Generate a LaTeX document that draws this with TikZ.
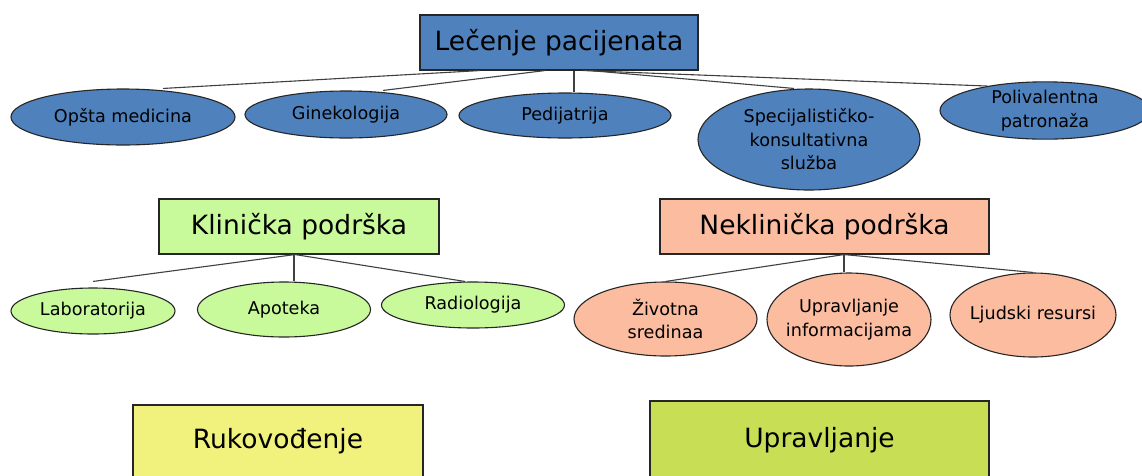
\documentclass[tikz,border=0pt]{standalone}
\usepackage{fontspec}
\setmainfont{DejaVu Sans}
\usetikzlibrary{shapes.geometric}
\definecolor{cblue}{HTML}{4F81BD}
\definecolor{cgreen}{HTML}{C8FA9C}
\definecolor{csalmon}{HTML}{FBBCA0}
\definecolor{cyellow}{HTML}{F0F27D}
\definecolor{colive}{HTML}{C8DE55}
\newcommand\bigfnt{\fontsize{26.5}{32}\selectfont}
\newcommand\smfnt{\fontsize{17.6}{23.5}\selectfont}
\begin{document}
\begin{tikzpicture}[x=1pt,y=-1pt,
  bigbox/.style={rectangle, draw=black!85, line width=1.1pt, inner sep=0pt, font=\bigfnt},
  oval/.style={ellipse, draw=black!85, line width=1.1pt, inner xsep=-12pt, inner ysep=0pt, align=center, font=\smfnt},
  conn/.style={draw=black!75, line width=1.1pt}]
\clip (0,0) rectangle (1142,475);
\fill[white] (0,0) rectangle (1142,475);

% top level
\node[bigbox, fill=cblue, minimum width=278pt, minimum height=55pt] (top) at (559,42.5) {Lečenje pacijenata};
\node[oval, fill=cblue, minimum width=224pt, minimum height=56pt] (op) at (123,117) {Opšta medicina};
\node[oval, fill=cblue, minimum width=202pt, minimum height=47pt] (gin) at (346,114.5) {Ginekologija};
\node[oval, fill=cblue, minimum width=212pt, minimum height=45pt] (ped) at (565,115.5) {Pedijatrija};
\node[oval, fill=cblue, minimum width=222pt, minimum height=101pt] (spe) at (809,139.5) {Specijalističko-\\konsultativna\\služba};
\node[oval, fill=cblue, minimum width=210pt, minimum height=55pt] (pol) at (1045,110.5) {Polivalentna\\patronaža};

\draw[conn] ([xshift=-79pt]top.south) -- ([xshift=40pt]op.north);
\draw[conn] ([xshift=-14pt]top.south) -- ([xshift=37pt]gin.north);
\draw[conn] ([xshift=15pt]top.south) -- ([xshift=9pt]ped.north);
\draw[conn] ([xshift=31pt]top.south) -- ([xshift=-15pt]spe.north);
\draw[conn] ([xshift=24pt]top.south) -- (pol.157);

% clinical support
\node[bigbox, fill=cgreen, minimum width=280pt, minimum height=55pt] (klin) at (299,226.5) {Klinička podrška};
\node[oval, fill=cgreen, minimum width=164pt, minimum height=46pt] (lab) at (93,311) {Laboratorija};
\node[oval, fill=cgreen, minimum width=173pt, minimum height=55pt] (apo) at (284,309.5) {Apoteka};
\node[oval, fill=cgreen, minimum width=183pt, minimum height=46pt] (rad) at (473,305) {Radiologija};

\draw[conn] ([xshift=-4pt]klin.south) -- ([yshift=6pt]lab.north);
\draw[conn] ([xshift=-5pt]klin.south) -- ([xshift=10pt]apo.north);
\draw[conn] ([xshift=-4pt]klin.south) -- ([xshift=-8pt]rad.north);

% non-clinical support
\node[bigbox, fill=csalmon, minimum width=329pt, minimum height=55pt] (nek) at (824.5,226.5) {Neklinička podrška};
\node[oval, fill=csalmon, minimum width=183pt, minimum height=74pt] (ziv) at (665.5,319) {Životna\\sredinaa};
\node[oval, fill=csalmon, minimum width=164pt, minimum height=93pt] (upr) at (849,319.5) {Upravljanje\\informacijama};
\node[oval, fill=csalmon, minimum width=166pt, minimum height=84pt] (lju) at (1033,315) {Ljudski resursi};

\draw[conn] ([xshift=19.5pt]nek.south) -- (ziv.north);
\draw[conn] ([xshift=19.5pt]nek.south) -- ([xshift=-5pt]upr.north);
\draw[conn] ([xshift=19.5pt]nek.south) -- (lju.north);

% bottom boxes
\node[bigbox, fill=cyellow, minimum width=290pt, minimum height=72pt] (ruk) at (278,441) {Rukovođenje};
\node[bigbox, fill=colive, minimum width=339pt, minimum height=78pt] (upv) at (819.5,440) {Upravljanje};
\end{tikzpicture}
\end{document}
